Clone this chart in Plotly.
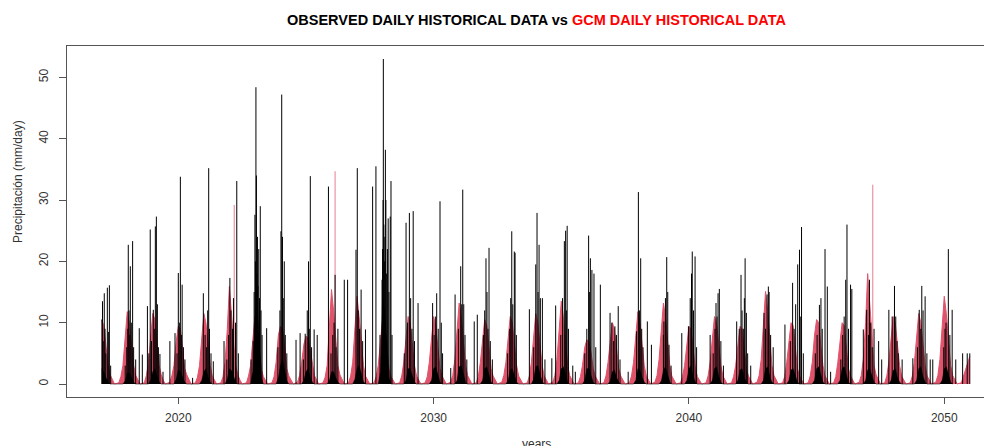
import plotly.graph_objects as go

# ---------------- data ----------------
season_years = list(range(2017, 2052))

# GCM (red) seasonal envelope, offsets in years relative to 1 Jan of each season year
red_offsets = [-0.33, -0.25, -0.17, -0.08, 0.0, 0.08, 0.17, 0.25, 0.33, 0.42, 0.5]
red_env = [
    [None, None, None, None, 10.5, 9.5, 6, 3, 1.5, 0.6, 0],
    [0.2, 1.2, 3, 7, 11.8, 10, 6, 3, 1.4, 0.5, 0],
    [0.2, 1.4, 3.5, 8, 11.5, 10.5, 6.5, 3, 1.5, 0.5, 0],
    [0.3, 1.4, 3, 7, 9.4, 9, 5.5, 2.5, 1.5, 0.6, 0],
    [0.2, 1.1, 3, 7.5, 11.5, 10, 6, 3, 1.3, 0.5, 0],
    [0.2, 1.2, 3.5, 9, 15.9, 11, 6.5, 3, 1.5, 0.6, 0],
    [0.2, 1.3, 3, 7, 11, 10, 6, 2.5, 1.2, 0.5, 0],
    [0.2, 1.2, 3.5, 8, 9.4, 9, 6, 2.5, 1.3, 0.5, 0],
    [0.3, 1.4, 3.5, 6.5, 7.8, 7.5, 5.5, 3, 1.4, 0.6, 0],
    [0.2, 1.1, 3, 9, 15.4, 12, 6.5, 3, 1.5, 0.6, 0],
    [0.2, 1.3, 3.5, 9, 14.3, 11, 6.5, 3, 1.3, 0.5, 0],
    [0.2, 1.2, 3, 7, 10.5, 10, 6, 2.5, 1.2, 0.5, 0],
    [0.2, 1.3, 3.5, 8, 11, 10, 6, 3, 1.3, 0.5, 0],
    [0.2, 1.2, 3.5, 8, 11, 9.5, 6, 2.5, 1.3, 0.5, 0],
    [0.3, 1.4, 4, 9, 13.2, 11, 6.5, 3, 1.4, 0.6, 0],
    [0.2, 1.2, 3.5, 7.5, 10.5, 9.5, 6, 2.5, 1.3, 0.5, 0],
    [0.3, 1.4, 3.5, 8, 11, 10, 6, 3, 1.3, 0.5, 0],
    [0.2, 1.3, 3.5, 8, 11.5, 10, 6, 3, 1.3, 0.5, 0],
    [0.3, 1.4, 4, 9, 13.5, 11, 6.5, 3, 1.4, 0.5, 0],
    [0.2, 1.2, 3, 6, 7.2, 7, 5, 2.5, 1.3, 0.5, 0],
    [0.2, 1.3, 3.5, 7.5, 10, 9, 5.5, 2.5, 1.3, 0.5, 0],
    [0.2, 1.3, 3.5, 8, 11.8, 10, 6, 3, 1.3, 0.5, 0],
    [0.3, 1.4, 4, 9, 13.2, 11, 6.5, 3, 1.3, 0.5, 0],
    [0.2, 1.2, 3, 7, 9.4, 9, 5.5, 2.5, 1.2, 0.5, 0],
    [0.2, 1.3, 3.5, 8, 11, 10, 6, 3, 1.3, 0.5, 0],
    [0.2, 1.2, 3, 7, 9.4, 9, 5.5, 2.5, 1.3, 0.5, 0],
    [0.3, 1.4, 4, 10, 15.1, 12, 7, 3, 1.4, 0.6, 0],
    [0.2, 1.2, 3.5, 7.5, 10, 9.5, 6, 2.5, 1.3, 0.5, 0],
    [0.2, 1.3, 3.5, 8, 10.5, 10, 6, 3, 1.3, 0.5, 0],
    [0.2, 1.2, 3.5, 7.5, 10, 9.5, 6, 2.5, 1.3, 0.5, 0],
    [0.3, 1.4, 4, 10, 18, 13, 7, 3, 1.5, 0.6, 0],
    [0.2, 1.3, 3.5, 8, 11, 10, 6, 3, 1.3, 0.5, 0],
    [0.2, 1.3, 3.5, 8, 11.5, 10, 6, 3, 1.3, 0.5, 0],
    [0.3, 1.4, 4, 9.5, 14.3, 11.5, 6.5, 3, 1.4, 0.6, 0],
    [0.2, 1.2, 2.5, 3.5, 4.5, None, None, None, None, None, None],
]

# GCM isolated high days
red_spike_t = [2022.19, 2026.14, 2047.20]
red_spike_v = [29.2, 34.7, 32.5]

# Observed (black) dense low-rain core of each season
obs_offsets = [-0.17, -0.08, 0.0, 0.08, 0.17, 0.25, 0.33]
obs_base = [
    [None, None, 2.5, 2, 1, 0.3, 0],
    [0, 0.5, 1.8, 1.8, 1, 0.3, 0],
    [0, 0.6, 2, 2.5, 1.2, 0.3, 0],
    [0, 0.8, 2.3, 2, 1, 0.3, 0],
    [0, 0.6, 2, 2.5, 1, 0.3, 0],
    [0, 0.8, 2.5, 2.2, 1.2, 0.3, 0],
    [0, 2, 10, 14, 6, 1, 0],
    [0, 1, 3, 4, 2, 0.5, 0],
    [0, 0.6, 2, 2.5, 1, 0.3, 0],
    [0, 0.6, 2, 2, 1, 0.3, 0],
    [0, 0.8, 2.5, 3, 1.5, 0.4, 0],
    [0, 2, 14, 12, 6, 1, 0],
    [0, 0.6, 2.5, 2.5, 1.2, 0.3, 0],
    [0, 0.6, 2.5, 2.8, 1.2, 0.3, 0],
    [0, 0.6, 2.8, 3, 1.5, 0.3, 0],
    [0, 0.6, 2.5, 2.8, 1.2, 0.3, 0],
    [0, 0.6, 2.3, 2.5, 1.2, 0.3, 0],
    [0, 0.8, 2.8, 3, 1.5, 0.4, 0],
    [0, 0.6, 2.5, 2.8, 1.2, 0.3, 0],
    [0, 0.6, 2.5, 2.5, 1.2, 0.3, 0],
    [0, 0.5, 2, 2.3, 1, 0.3, 0],
    [0, 0.6, 2.5, 2.3, 1, 0.3, 0],
    [0, 0.5, 2.2, 2.8, 1.2, 0.3, 0],
    [0, 0.6, 2.5, 3, 1.2, 0.3, 0],
    [0, 0.6, 2.5, 2.8, 1.2, 0.3, 0],
    [0, 0.6, 2.3, 2.5, 1, 0.3, 0],
    [0, 0.6, 2.5, 2.8, 1.2, 0.3, 0],
    [0, 0.6, 2.3, 2.5, 1.2, 0.3, 0],
    [0, 0.6, 2.5, 2.8, 1.2, 0.3, 0],
    [0, 0.6, 2.5, 2.8, 1.2, 0.3, 0],
    [0, 0.6, 2.3, 2.5, 1.2, 0.3, 0],
    [0, 0.6, 2.2, 2.5, 1, 0.3, 0],
    [0, 0.6, 2.5, 2.8, 1.2, 0.3, 0],
    [0, 0.6, 2.5, 2.8, 1.2, 0.3, 0],
    [None, None, None, None, None, None, None],
]

# Observed (black) daily spikes: (decimal year, mm/day)
obs_spikes = [
    (2017.01, 10.5), (2017.03, 13.5), (2017.06, 7), (2017.10, 14.8), (2017.13, 9), (2017.16, 5), (2017.22, 15.7), (2017.26, 8.5), (2017.30, 16.1), (2017.35, 3),
    (2017.92, 3), (2017.98, 6), (2018.02, 9), (2018.04, 22.7), (2018.07, 12), (2018.10, 8), (2018.12, 19.2), (2018.16, 10), (2018.21, 23.3), (2018.25, 6), (2018.33, 4), (2018.47, 9.1), (2018.59, 4.8),
    (2018.79, 12.7), (2018.85, 5), (2018.90, 25.2), (2018.95, 7), (2019.02, 12.1), (2019.06, 9), (2019.10, 25.7), (2019.14, 27.3), (2019.18, 13), (2019.22, 6), (2019.28, 4.9), (2019.40, 2),
    (2019.67, 7), (2019.87, 8.3), (2019.95, 5), (2020.00, 18.1), (2020.04, 10), (2020.08, 33.8), (2020.12, 8), (2020.15, 16.2), (2020.20, 6), (2020.26, 4), (2020.56, 1),
    (2020.98, 14.8), (2021.05, 8), (2021.10, 6), (2021.15, 12), (2021.19, 35.2), (2021.22, 9), (2021.28, 5), (2021.37, 3.7), (2021.79, 7),
    (2021.90, 4), (2021.97, 8), (2022.02, 17.3), (2022.06, 12), (2022.12, 9), (2022.16, 14), (2022.24, 10), (2022.29, 33.1), (2022.35, 5),
    (2022.85, 4), (2022.93, 7), (2022.97, 15), (2023.00, 27.6), (2023.02, 20), (2023.04, 48.4), (2023.06, 34), (2023.08, 18), (2023.10, 24), (2023.12, 16), (2023.15, 22), (2023.18, 14), (2023.21, 29), (2023.24, 12), (2023.28, 8), (2023.46, 9.1),
    (2023.90, 6), (2023.98, 12), (2024.02, 24.9), (2024.05, 47.2), (2024.08, 24), (2024.11, 14), (2024.15, 20), (2024.19, 8), (2024.25, 5), (2024.61, 7.2), (2024.77, 8.3),
    (2024.90, 4), (2024.97, 8.2), (2025.05, 12), (2025.10, 20), (2025.13, 9), (2025.17, 33.9), (2025.22, 6), (2025.32, 8.9), (2025.44, 8),
    (2025.88, 32.2), (2025.98, 5), (2026.05, 8), (2026.10, 10), (2026.14, 17.8), (2026.18, 6), (2026.25, 9), (2026.50, 17), (2026.63, 17),
    (2026.96, 21.9), (2027.01, 35.2), (2027.05, 12), (2027.10, 9), (2027.16, 15.4), (2027.22, 7), (2027.33, 8.9), (2027.61, 32.2), (2027.74, 35.5),
    (2027.90, 8), (2027.98, 17), (2028.00, 22), (2028.02, 30), (2028.03, 53.0), (2028.05, 26), (2028.07, 20), (2028.09, 24), (2028.11, 38.2), (2028.13, 30), (2028.16, 18), (2028.19, 22), (2028.22, 27), (2028.25, 15), (2028.30, 27.3), (2028.33, 33.1), (2028.37, 8),
    (2028.85, 5), (2028.92, 26.3), (2028.98, 10), (2029.05, 27.9), (2029.10, 14), (2029.15, 9), (2029.20, 28.2), (2029.25, 7), (2029.39, 13.2),
    (2029.96, 13.2), (2030.02, 8), (2030.08, 11), (2030.12, 14.8), (2030.18, 9), (2030.25, 29.8), (2030.30, 10), (2030.35, 5), (2030.67, 2.6), (2030.84, 14.6),
    (2030.97, 9), (2031.06, 19.2), (2031.10, 13), (2031.14, 31.7), (2031.18, 13), (2031.23, 8), (2031.30, 4), (2031.59, 10.2), (2031.71, 11.3),
    (2031.95, 8), (2032.00, 12), (2032.05, 20.5), (2032.09, 15), (2032.13, 9), (2032.17, 22.2), (2032.22, 7), (2032.30, 4),
    (2032.90, 5), (2032.98, 9), (2033.02, 14), (2033.06, 24.9), (2033.10, 13), (2033.16, 21.6), (2033.19, 21.4), (2033.24, 8), (2033.75, 12.2),
    (2033.92, 6), (2034.00, 19.5), (2034.05, 27.9), (2034.09, 15), (2034.13, 22.7), (2034.18, 14), (2034.26, 14), (2034.36, 4), (2034.63, 4.2), (2034.78, 12.8),
    (2034.98, 8), (2035.05, 14), (2035.12, 23.3), (2035.17, 25), (2035.20, 12), (2035.23, 25.8), (2035.28, 9), (2035.45, 3), (2035.55, 2),
    (2035.92, 5), (2036.00, 9), (2036.07, 24.2), (2036.10, 15), (2036.14, 20.5), (2036.20, 18.6), (2036.28, 18), (2036.35, 6), (2036.53, 16.2), (2036.91, 11.6), (2036.98, 10),
    (2037.05, 7), (2037.10, 9.4), (2037.16, 8), (2037.23, 12.7), (2037.30, 4), (2037.62, 2),
    (2037.95, 8.6), (2038.02, 31.3), (2038.06, 12), (2038.11, 20.5), (2038.15, 9), (2038.20, 6), (2038.37, 10.2), (2038.53, 6.4),
    (2039.00, 8), (2039.02, 10.2), (2039.08, 14), (2039.13, 20.7), (2039.17, 15), (2039.22, 6.4), (2039.30, 3),
    (2039.72, 8.3), (2039.98, 9.4), (2040.05, 14), (2040.10, 18), (2040.13, 21.6), (2040.18, 12), (2040.24, 20.8), (2040.30, 6), (2040.83, 8),
    (2040.95, 5), (2041.02, 9), (2041.06, 13.2), (2041.10, 11), (2041.14, 14.8), (2041.19, 15.5), (2041.25, 7), (2041.35, 3), (2041.87, 10.2),
    (2041.97, 9), (2042.04, 17.8), (2042.08, 12), (2042.13, 9), (2042.17, 14), (2042.20, 20.5), (2042.25, 11.6), (2042.30, 5), (2042.42, 3),
    (2042.94, 11.6), (2043.00, 9), (2043.06, 14.6), (2043.11, 15.9), (2043.14, 15), (2043.20, 8), (2043.30, 6), (2043.76, 9.7),
    (2043.97, 7), (2044.06, 16.5), (2044.12, 9), (2044.18, 13), (2044.26, 19.5), (2044.33, 21.9), (2044.38, 11), (2044.41, 25.6), (2044.48, 5),
    (2044.95, 5), (2045.02, 8), (2045.11, 12.9), (2045.17, 14), (2045.22, 9), (2045.33, 22), (2045.42, 15.9), (2045.55, 2),
    (2045.95, 4), (2046.02, 8), (2046.08, 11), (2046.14, 17), (2046.19, 26), (2046.25, 9), (2046.33, 16.2), (2046.38, 15.5), (2046.83, 8.9),
    (2046.96, 12.1), (2047.03, 8), (2047.07, 17), (2047.12, 10), (2047.18, 6), (2047.25, 9), (2047.43, 7), (2047.55, 4),
    (2047.83, 12.1), (2047.96, 11), (2048.05, 16), (2048.10, 11), (2048.15, 7), (2048.20, 5), (2048.35, 4), (2048.77, 4.2),
    (2048.95, 6), (2049.02, 12.1), (2049.08, 9), (2049.12, 16), (2049.17, 12), (2049.25, 14.3), (2049.32, 5), (2049.45, 4), (2049.55, 4),
    (2049.98, 6), (2050.03, 9), (2050.07, 10), (2050.16, 22), (2050.22, 8), (2050.31, 12.1), (2050.45, 4), (2050.72, 5), (2050.90, 5), (2051.00, 5),
]

x_ticks = [2020, 2030, 2040, 2050]
y_ticks = [0, 10, 20, 30, 40, 50]

RED = "#DF536B"

# ---------------- build traces ----------------
def envelope(offsets, table):
    xs, ys = [], []
    for yr, vals in zip(season_years, table):
        for off, v in zip(offsets, vals):
            if v is not None:
                xs.append(yr + off)
                ys.append(v)
    return xs, ys

def sticks(ts, vs):
    xs, ys = [], []
    for t, v in zip(ts, vs):
        xs += [t, t, None]
        ys += [0, v, None]
    return xs, ys

rx, ry = envelope(red_offsets, red_env)
bx, by = envelope(obs_offsets, obs_base)
rsx, rsy = sticks(red_spike_t, red_spike_v)
obs_t = [p[0] for p in obs_spikes]
obs_v = [p[1] for p in obs_spikes]
osx, osy = sticks(obs_t, obs_v)

fig = go.Figure()
fig.add_trace(go.Scatter(x=rx, y=ry, mode="lines", fill="tozeroy",
                         line=dict(color=RED, width=1), fillcolor=RED,
                         hoverinfo="skip", showlegend=False))
fig.add_trace(go.Scatter(x=rsx, y=rsy, mode="lines",
                         line=dict(color="rgba(223,83,107,0.75)", width=1),
                         hoverinfo="skip", showlegend=False))
fig.add_trace(go.Scatter(x=bx, y=by, mode="lines", fill="tozeroy",
                         line=dict(color="black", width=0.5), fillcolor="black",
                         hoverinfo="skip", showlegend=False))
fig.add_trace(go.Scatter(x=osx, y=osy, mode="lines",
                         line=dict(color="black", width=1),
                         hoverinfo="skip", showlegend=False))

AX = "#555555"
TXT = "#333333"
FONT = "Liberation Sans, Arial, sans-serif"

# the page body adds an 8 px offset, so the figure is drawn 8 px smaller
fig.update_layout(
    width=984, height=438,
    margin=dict(l=59, r=0, t=38, b=49),
    paper_bgcolor="white", plot_bgcolor="white",
    font=dict(family=FONT, size=12, color=TXT),
    xaxis=dict(range=[2015.64, 2051.87], tickvals=x_ticks, ticks="outside",
               ticklen=6, tickcolor=AX, showline=True, mirror=True,
               linecolor=AX, linewidth=1, showgrid=False, zeroline=False,
               ticklabelstandoff=4, tickfont=dict(size=12, color=TXT)),
    yaxis=dict(range=[-2.12, 55.12], tickvals=y_ticks, ticks="outside",
               ticklen=7, tickcolor=AX, showline=True, mirror=False,
               linecolor=AX, linewidth=1, showgrid=False, zeroline=False,
               tickangle=-90, ticklabelstandoff=6, tickfont=dict(size=12, color=TXT)),
    annotations=[
        dict(text="<b>OBSERVED DAILY HISTORICAL DATA vs "
                  "<span style='color:#FF0000'>GCM DAILY HISTORICAL DATA</span></b>",
             xref="paper", yref="paper", x=(537 - 67) / 925, y=1 + (46 - 20) / 351,
             xanchor="center", yanchor="middle", showarrow=False,
             font=dict(family=FONT, size=14.5, color="black")),
        dict(text="Precipitación (mm/day)", xref="paper", yref="paper",
             x=(18 - 67) / 925, y=(397 - 182) / 351, textangle=-90,
             xanchor="center", yanchor="middle", showarrow=False,
             font=dict(family=FONT, size=12, color=TXT)),
        dict(text="years", xref="paper", yref="paper",
             x=(536 - 67) / 925, y=-(435 - 397) / 351,
             xanchor="center", yanchor="top", showarrow=False,
             font=dict(family=FONT, size=12, color=TXT)),
    ],
)

fig.write_html("out.html")
